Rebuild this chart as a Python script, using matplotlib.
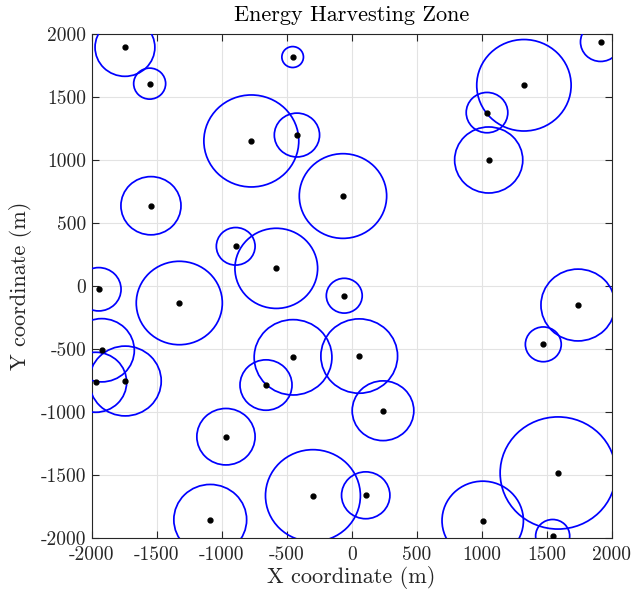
import matplotlib
matplotlib.use("Agg")
import matplotlib.pyplot as plt
from matplotlib.patches import Circle

# Node positions (m) and harvesting radii (m)
node_x = [-1744, -1554, -454, -772, -421, -67, -1544, -892, -580,
          1915, 1325, 1041, 1054,
          -1946, -1326, -57, -1923, -1969, -1742, -451, -659, 58,
          -967, -1088, -298, 108, 241,
          1741, 1474, 1587, 1008, 1546]
node_y = [1894, 1606, 1817, 1151, 1198, 714, 637, 315, 140,
          1937, 1593, 1376, 1000,
          -26, -135, -77, -510, -764, -754, -566, -786, -556,
          -1196, -1855, -1664, -1661, -990,
          -151, -463, -1484, -1862, -1984]
radii = [230, 123, 83, 365, 174, 336, 231, 149, 318,
         155, 363, 160, 262,
         172, 331, 138, 251, 238, 277, 299, 200, 295,
         224, 280, 365, 186, 237,
         285, 138, 445, 313, 131]

x_ticks = [-2000, -1500, -1000, -500, 0, 500, 1000, 1500, 2000]
y_ticks = [-2000, -1500, -1000, -500, 0, 500, 1000, 1500, 2000]

plt.rcParams['font.family'] = 'cmr10'
plt.rcParams['axes.unicode_minus'] = False
plt.rcParams['mathtext.fontset'] = 'cm'

fig = plt.figure(figsize=(6.34, 5.92), dpi=100)
ax = fig.add_axes([0.1446, 0.0912, 0.8202, 0.8514])

for x, y, r in zip(node_x, node_y, radii):
    ax.add_patch(Circle((x, y), r, fill=False, edgecolor='#0000ff', linewidth=1.25, zorder=3))
ax.plot(node_x, node_y, 'o', color='black', markersize=3.5, zorder=4, linestyle='none')

ax.set_xlim(-2000, 2000)
ax.set_ylim(-2000, 2000)
ax.set_xticks(x_ticks)
ax.set_yticks(y_ticks)
ax.set_xticklabels([str(t) for t in x_ticks])
ax.set_yticklabels([str(t) for t in y_ticks])
ax.grid(True, color='#e3e3e3', linewidth=0.8, zorder=0)
ax.set_axisbelow(True)
ax.tick_params(direction='in', top=True, right=True, length=5, width=0.8,
               colors='#262626', labelsize=14, labelcolor='#262626')
ax.tick_params(axis='y', pad=4)
ax.tick_params(axis='x', pad=6)
for s in ax.spines.values():
    s.set_color('#262626')
    s.set_linewidth(0.8)

ax.set_xlabel('X coordinate (m)', fontsize=16, labelpad=1, color='#262626')
ax.set_ylabel('Y coordinate (m)', fontsize=16, labelpad=6, color='#262626')
ax.set_title('Energy Harvesting Zone', fontsize=16, pad=9, color='black')

fig.savefig('out.png', dpi=100)
